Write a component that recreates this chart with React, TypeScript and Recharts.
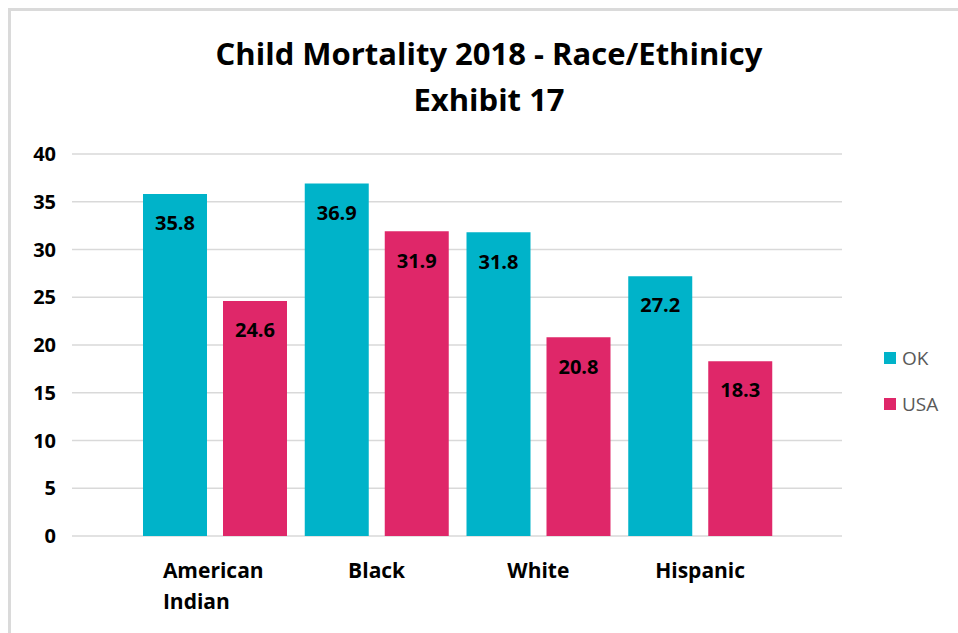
import React from "react";
import { Bar, BarChart, CartesianGrid, LabelList, Legend, XAxis, YAxis } from "recharts";

const races = ["American Indian", "Black", "White", "Hispanic"];
const okValues = [35.8, 36.9, 31.8, 27.2];
const usaValues = [24.6, 31.9, 20.8, 18.3];
const yTicks = [0, 5, 10, 15, 20, 25, 30, 35, 40];

const OK_COLOR = "#00B3C9";
const USA_COLOR = "#DF2769";
const FONT = "'Open Sans', sans-serif";

const data = races.map((race, i) => ({ race, OK: okValues[i], USA: usaValues[i] }));

function RaceTick(props: any) {
  const { x, y, payload } = props;
  const words: string[] = String(payload.value).split(" ");
  const multi = words.length > 1;
  const tx = multi ? x - 52 : x;
  return (
    <text
      x={tx}
      y={y}
      textAnchor={multi ? "start" : "middle"}
      fill="#000"
      fontFamily={FONT}
      fontWeight={700}
      fontSize={21}
    >
      {words.map((w, i) => (
        <tspan key={w} x={tx} dy={i === 0 ? 34 : 31}>
          {w}
        </tspan>
      ))}
    </text>
  );
}

function LegendBox({ payload }: any) {
  return (
    <div style={{ fontFamily: FONT, fontSize: 19, color: "#595959" }}>
      {(payload || []).map((p: any) => (
        <div key={p.value} style={{ display: "flex", alignItems: "center", height: 46 }}>
          <span style={{ width: 12, height: 12, background: p.color, marginRight: 6 }} />
          {p.value}
        </div>
      ))}
    </div>
  );
}

const valueLabel = {
  position: "insideTop" as const,
  offset: 22,
  fill: "#000",
  fontFamily: FONT,
  fontWeight: 700,
  fontSize: 20,
};

export default function App() {
  return (
    <div
      style={{
        position: "absolute",
        left: 0,
        top: 0,
        width: 958,
        height: 633,
        background: "#fff",
        overflow: "hidden",
      }}
    >
      {/* frame: only top and left edges are visible in the crop */}
      <div style={{ position: "absolute", left: 8, top: 8, width: 950, height: 3, background: "#dadada" }} />
      <div style={{ position: "absolute", left: 8, top: 8, width: 3, height: 625, background: "#dadada" }} />
      <div
        style={{
          position: "absolute",
          left: 0,
          top: 30,
          width: 978,
          textAlign: "center",
          fontFamily: FONT,
          fontWeight: 700,
          fontSize: 31,
          lineHeight: "46px",
          color: "#000",
        }}
      >
        <div>Child Mortality 2018 - Race/Ethinicy</div>
        <div>Exhibit 17</div>
      </div>
      <BarChart
        width={958}
        height={633}
        data={data}
        margin={{ top: 154, right: 116, bottom: 0, left: 12 }}
        barSize={64}
        barGap={16}
        style={{ position: "absolute", left: 0, top: 0 }}
      >
        <CartesianGrid vertical={false} stroke="#d9d9d9" strokeWidth={1.5} />
        <XAxis
          dataKey="race"
          axisLine={false}
          tickLine={false}
          padding={{ left: 62, right: 61 }}
          tick={<RaceTick />}
          interval={0}
          height={97}
        />
        <YAxis
          domain={[0, 40]}
          ticks={yTicks}
          width={60}
          axisLine={false}
          tickLine={false}
          tickSize={0}
          tickMargin={16}
          tick={{ fill: "#000", fontFamily: FONT, fontWeight: 700, fontSize: 20 }}
        />
        <Legend
          layout="vertical"
          align="center"
          verticalAlign="middle"
          content={<LegendBox />}
          wrapperStyle={{ left: 884, top: 335, width: 70 }}
        />
        <Bar dataKey="OK" fill={OK_COLOR} isAnimationActive={false}>
          <LabelList dataKey="OK" {...valueLabel} />
        </Bar>
        <Bar dataKey="USA" fill={USA_COLOR} isAnimationActive={false}>
          <LabelList dataKey="USA" {...valueLabel} />
        </Bar>
      </BarChart>
    </div>
  );
}
